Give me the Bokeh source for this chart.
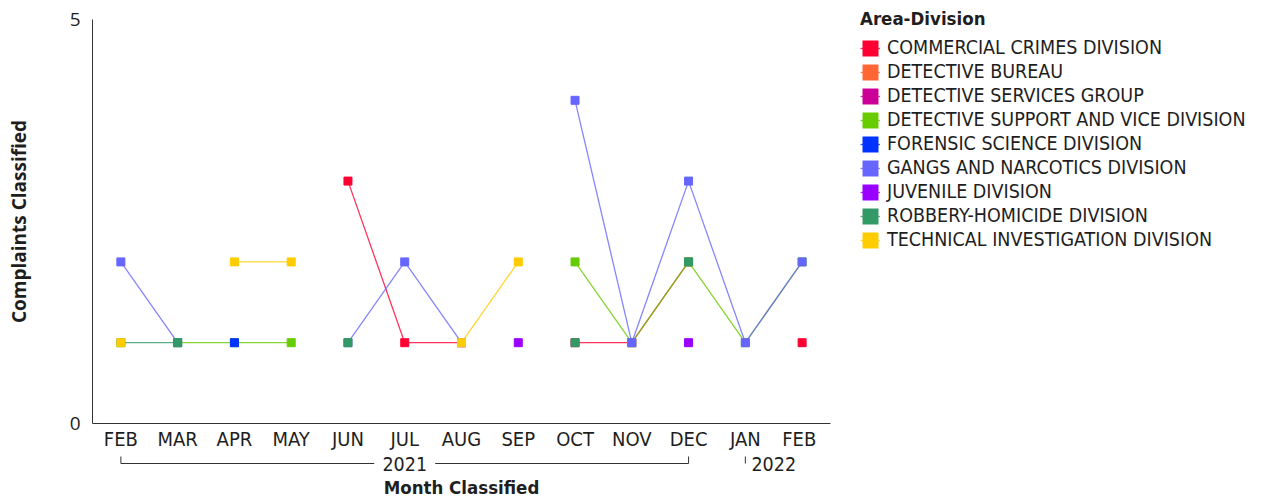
from bokeh.plotting import figure
from bokeh.models import (FactorRange, Range1d, FixedTicker, Legend, LegendItem,
                          ColumnDataSource)
from bokeh.layouts import row, column
from bokeh.core.properties import value
from bokeh.embed import file_html
from bokeh.resources import INLINE

nan = float("nan")

years = ["2021"] * 11 + ["2022"] * 2
months = ["FEB", "MAR", "APR", "MAY", "JUN", "JUL", "AUG", "SEP", "OCT", "NOV", "DEC", "JAN", "FEB"]

divisions = [
    "COMMERCIAL CRIMES DIVISION",
    "DETECTIVE BUREAU",
    "DETECTIVE SERVICES GROUP",
    "DETECTIVE SUPPORT AND VICE DIVISION",
    "FORENSIC SCIENCE DIVISION",
    "GANGS AND NARCOTICS DIVISION",
    "JUVENILE DIVISION",
    "ROBBERY-HOMICIDE DIVISION",
    "TECHNICAL INVESTIGATION DIVISION",
]
colors = ["#ff0033", "#ff6633", "#cc0099", "#66cc00", "#0033ff",
          "#6666ff", "#9900ff", "#339966", "#ffcc00"]

#                FEB  MAR  APR  MAY  JUN  JUL  AUG  SEP  OCT  NOV  DEC  JAN  FEB
commercial   = [nan, nan, nan, nan, 3,   1,   1,   nan, 1,   1,   2,   nan, 1]
det_bureau   = [nan] * 13
det_services = [nan] * 13
support_vice = [nan, 1,   1,   1,   nan, nan, nan, nan, 2,   1,   2,   1,   2]
forensic     = [nan, nan, 1,   nan, nan, nan, nan, nan, nan, nan, nan, nan, nan]
gangs        = [2,   1,   nan, nan, 1,   2,   1,   nan, 4,   1,   3,   1,   2]
juvenile     = [nan, nan, nan, nan, nan, nan, nan, 1,   nan, nan, 1,   nan, nan]
robbery      = [1,   1,   nan, nan, 1,   nan, nan, nan, 1,   nan, 2,   nan, nan]
technical    = [1,   nan, 2,   2,   nan, nan, 1,   2,   nan, nan, nan, nan, nan]

series = [commercial, det_bureau, det_services, support_vice, forensic,
          gangs, juvenile, robbery, technical]

y_ticks = [0, 5]
x_title = "Month Classified"
y_title = "Complaints Classified"
legend_title = "Area-Division"

# unique factor per month: repeated month names get a trailing space (not rendered in SVG)
factors = []
for m in months:
    f = m
    while f in factors:
        f += " "
    factors.append(f)

FONT = "DejaVu Sans Condensed"
YFONT = "Open Sans"
TXT = "#1e1e1e"

TOTAL_W, TOTAL_H = 1255, 497
LEFT, RIGHT, TOP = 92, 28, 19
FRAME_W, FRAME_H = 738, 404
MAIN_BOTTOM = 30
MAIN_W = LEFT + FRAME_W + RIGHT
MAIN_H = TOP + FRAME_H + MAIN_BOTTOM
STRIP_H = TOTAL_H - MAIN_H

xr = FactorRange(factors=factors, range_padding=0, factor_padding=0)

# ---------------- main chart ----------------
p = figure(width=MAIN_W, height=MAIN_H, output_backend="svg",
           toolbar_location=None, x_range=xr, y_range=Range1d(0, 5))
p.min_border_left = LEFT
p.min_border_right = RIGHT
p.min_border_top = TOP
p.min_border_bottom = MAIN_BOTTOM
p.outline_line_color = None

for name, col, vals in zip(divisions, colors, series):
    src = ColumnDataSource(dict(x=factors, y=vals))
    p.line("x", "y", source=src, line_color=col, line_width=1.3, line_alpha=0.8)
    p.scatter("x", "y", source=src, marker="square", size=8,
              fill_color=col, line_color=col)

p.xgrid.grid_line_color = None
p.ygrid.grid_line_color = "#dddddd"

p.yaxis.ticker = FixedTicker(ticks=y_ticks)
p.yaxis.axis_label = y_title
p.yaxis.axis_label_text_font = YFONT
p.yaxis.axis_label_text_font_size = "19px"
p.yaxis.axis_label_text_font_style = "bold"
p.yaxis.axis_label_text_color = TXT
p.yaxis.axis_label_standoff = 35
p.yaxis.major_label_text_font = YFONT
p.yaxis.major_label_text_font_size = "19px"
p.yaxis.major_label_text_color = TXT
p.yaxis.major_label_standoff = 6
p.yaxis.major_tick_line_color = None
p.yaxis.minor_tick_line_color = None
p.yaxis.axis_line_color = "#333333"

p.xaxis.major_label_text_font = FONT
p.xaxis.major_label_text_font_size = "20px"
p.xaxis.major_label_text_color = TXT
p.xaxis.major_label_standoff = -3
p.xaxis.major_label_orientation = "horizontal"
p.xaxis.major_tick_line_color = None
p.xaxis.axis_line_color = "#333333"

# ---------------- year brackets + axis title strip ----------------
s = figure(width=MAIN_W, height=STRIP_H, output_backend="svg",
           toolbar_location=None, x_range=xr, y_range=Range1d(STRIP_H, 0),
           x_axis_location=None, y_axis_location=None)
s.min_border_left = LEFT
s.min_border_right = RIGHT
s.min_border_top = 0
s.min_border_bottom = 0
s.outline_line_color = None
s.grid.grid_line_color = None

px = len(factors) / FRAME_W          # data units per pixel
half_gap = 30.5 * px
xs, ys = [], []
yr_x, yr_t = [], []
for yr in dict.fromkeys(years):
    idx = [i for i, y in enumerate(years) if y == yr]
    a, b = idx[0] + 0.5, idx[-1] + 0.5
    c = (idx[0] + idx[-1] + 1) / 2
    yr_x.append(c)
    yr_t.append(yr)
    xs.append([a, a]); ys.append([3, 10])
    if c - half_gap > a:
        xs.append([a, c - half_gap]); ys.append([10, 10])
    if b > c + half_gap:
        xs.append([c + half_gap, b]); ys.append([10, 10])
        xs.append([b, b]); ys.append([3, 10])
s.multi_line(xs, ys, line_color="#333333", line_width=1)
s.text(yr_x, [10] * len(yr_x), text=yr_t, text_font=value(FONT), text_font_size="19.5px",
       text_color=TXT, text_align="center", text_baseline="middle")
s.text([len(factors) / 2], [33.5], text=[x_title], text_font=value(FONT),
       text_font_size="18.5px", text_font_style="bold", text_color=TXT,
       text_align="center", text_baseline="middle")

# ---------------- legend panel ----------------
L_W = TOTAL_W - MAIN_W
lg = figure(width=L_W, height=TOTAL_H, output_backend="svg", toolbar_location=None,
            x_axis_location=None, y_axis_location=None,
            x_range=Range1d(0, 1), y_range=Range1d(0, 1))
lg.min_border = 0
lg.min_border_top = 6
lg.outline_line_color = None
lg.grid.grid_line_color = None
items = []
for name, col in zip(divisions, colors):
    # legend swatches only: placed outside the visible range
    r1 = lg.line([-3, -2], [-3, -2], line_color=col, line_width=1.3, line_alpha=0.8)
    r2 = lg.quad(left=[-3], right=[-2], top=[-2], bottom=[-3], fill_color=col, line_color=None)
    items.append(LegendItem(label=name, renderers=[r1, r2]))
legend = Legend(items=items, title=legend_title, location="top_left",
                glyph_width=20, glyph_height=20, spacing=1, padding=0, margin=2,
                label_text_font=FONT, label_text_font_size="19.5px", label_text_color=TXT,
                title_text_font=FONT, title_text_font_size="18.5px", title_text_font_style="bold",
                title_text_color=TXT, title_standoff=7,
                border_line_color=None, background_fill_alpha=0, label_standoff=7)
lg.add_layout(legend)

layout = row(column(p, s), lg)
open("out.html", "w").write(file_html(layout, INLINE))
